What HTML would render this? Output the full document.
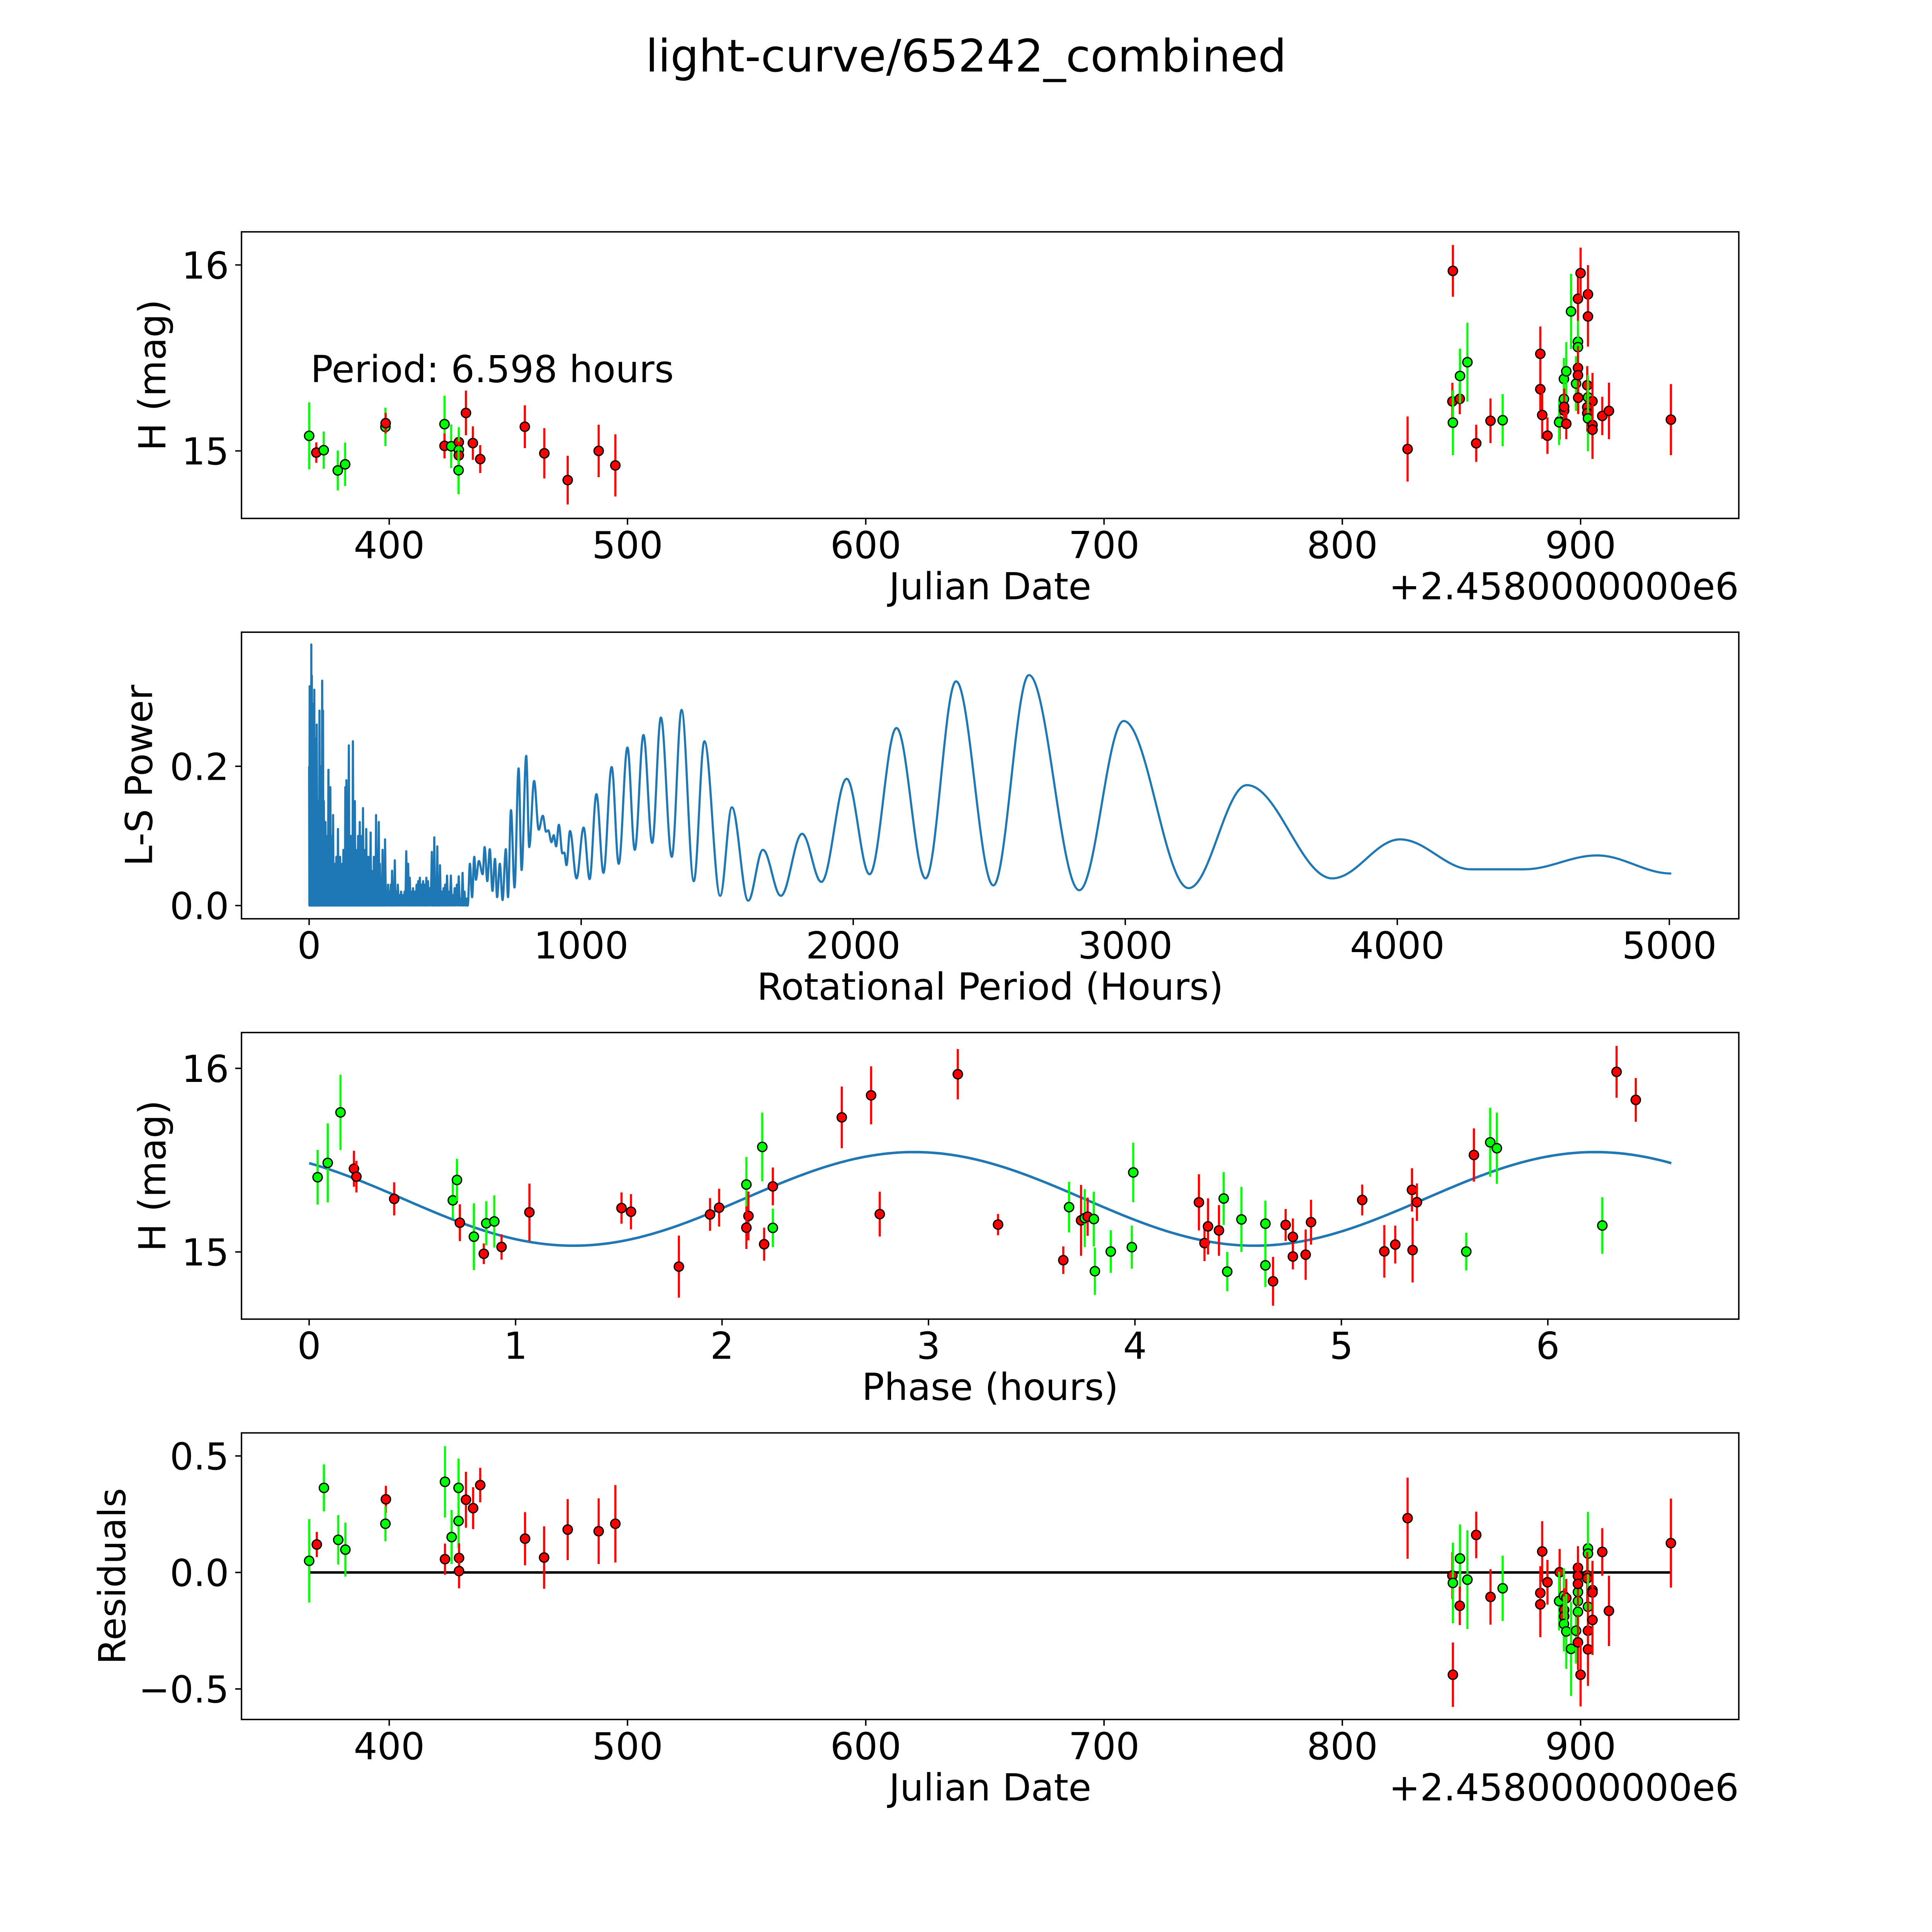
<!DOCTYPE html>
<html><head><meta charset="utf-8"><style>
html,body{margin:0;padding:0;background:#fff;overflow:hidden;width:100%;height:100%;}
svg{display:block;width:100vw;height:100vh;}
text{font-family:"DejaVu Sans","Liberation Sans",sans-serif;fill:#000;}
</style></head>
<body>
<svg id="fig" xmlns="http://www.w3.org/2000/svg" viewBox="0 0 5400 5400" preserveAspectRatio="xMidYMid meet">
<rect x="0" y="0" width="5400" height="5400" fill="#fff"/>
<text x="2700" y="200" font-size="125" text-anchor="middle">light-curve/65242_combined</text>
</svg>
<script>
// ---------- Panel 1: light curve vs Julian Date ----------
const lcJD = [366.4,369.4,372.5,378.4,381.5,398.4,398.5,423.2,423.2,426.0,429.2,429.2,429.2,429.1,432.2,435.1,438.2,456.9,465.1,474.9,487.9,494.9,
827.4,846.4,846.2,846.4,849.3,849.4,852.5,856.2,862.2,867.3,883.1,883.1,883.9,886.1,891.2,891.0,893.0,894.0,893.0,893.1,893.1,894.0,896.0,898.1,898.9,898.9,898.9,898.9,898.9,900.0,899.0,903.1,903.1,902.8,903.1,905.0,902.8,902.8,903.1,905.0,905.0,909.1,911.9,937.9];
const lcMag = [15.081,14.991,15.004,14.895,14.928,15.129,15.149,15.144,15.027,15.025,15.047,15.005,14.976,14.896,15.204,15.042,14.956,15.130,14.987,14.843,15.000,14.922,
15.010,15.968,15.266,15.152,15.280,15.403,15.477,15.041,15.162,15.165,15.522,15.332,15.193,15.082,15.159,15.154,15.387,15.428,15.279,15.217,15.237,15.146,15.750,15.362,15.587,15.558,15.446,15.407,15.818,15.956,15.286,15.842,15.723,15.353,15.288,15.267,15.235,15.203,15.175,15.139,15.114,15.188,15.215,15.168];
const lcErr = [0.18,0.055,0.10,0.107,0.117,0.103,0.055,0.153,0.067,0.117,0.074,0.123,0.074,0.129,0.12,0.09,0.075,0.115,0.135,0.131,0.141,0.167,
0.175,0.139,0.10,0.175,0.083,0.147,0.212,0.10,0.12,0.14,0.147,0.113,0.128,0.098,0.098,0.123,0.113,0.157,0.12,0.098,0.098,0.083,0.202,0.147,0.118,0.118,0.118,0.118,0.118,0.137,0.088,0.157,0.162,0.103,0.12,0.152,0.1,0.1,0.177,0.157,0.157,0.103,0.152,0.191];
const lcColor = ["g","r","g","g","g","g","r","g","r","g","r","g","r","g","r","r","r","r","r","r","r","r",
"r","r","r","g","r","g","g","r","r","g","r","r","r","r","r","g","g","g","g","r","r","r","g","g","g","g","r","r","r","r","r","r","r","r","g","r","r","r","g","r","r","r","r","r"];
const periodText = "Period: 6.598 hours";

// ---------- Panel 2: Lomb-Scargle periodogram ----------
const densePeriod = [0,2,4,6,8,10,12,14,16,19,22,25,28,31,34,38,41,44,48,51,54,57,60,64,67,71,74,78,82,85,88,92,96,100,103,106,110,114,118,122,126,130,133,137,141,146,150,154,158,161,165,168,172,176,180,183,186,190,194,198,202,206,210,214,218,222,226,230,234,238,242,246,250,256,260,265,270,275,279,285,290,296,300,305,310,315,320,326,332,338,345,351,357,364,370,376,382,388,395,401,407,413,419,425,431,437,443,451,456,460,466,471,476,481,487,494,500,507,514,521,528,535,543,550,557,564,571,578];
const densePower = [0.20,0.315,0.30,0.25,0.375,0.33,0.20,0.29,0.22,0.31,0.24,0.18,0.26,0.12,0.15,0.28,0.20,0.09,0.323,0.28,0.15,0.08,0.12,0.06,0.10,0.195,0.17,0.17,0.05,0.10,0.13,0.04,0.06,0.07,0.04,0.11,0.05,0.07,0.03,0.06,0.08,0.05,0.17,0.18,0.07,0.23,0.06,0.10,0.07,0.236,0.11,0.15,0.05,0.08,0.10,0.07,0.12,0.06,0.10,0.14,0.05,0.08,0.11,0.03,0.07,0.06,0.105,0.05,0.04,0.07,0.05,0.13,0.08,0.12,0.06,0.04,0.08,0.02,0.095,0.02,0.03,0.02,0.03,0.05,0.03,0.065,0.02,0.03,0.015,0.02,0.015,0.02,0.078,0.06,0.04,0.02,0.025,0.02,0.03,0.035,0.04,0.03,0.035,0.03,0.04,0.035,0.025,0.077,0.05,0.098,0.03,0.085,0.02,0.058,0.02,0.025,0.03,0.043,0.02,0.043,0.015,0.025,0.03,0.042,0.01,0.047,0.02,0.01];
const denseTrough = 0.0;
const smoothPeriod = [583,591,599,607,613,624,638,645,655,664,674,683,691,701,711,723,731,742,755,770,781,798,809,827,844,859,871,879,891,899,908,918,931,938,946,959,983,1009,1031,1056,1082,1112,1138,1170,1197,1229,1261,1293,1333,1369,1414,1453,1511,1554,1614,1668,1734,1812,1883,1976,2060,2159,2266,2378,2515,2646,2831,2994,3233,3447,3761,4010,4272,4466,4734,5007];
const smoothPower = [0.0,0.060,0.012,0.070,0.037,0.064,0.045,0.084,0.035,0.081,0.021,0.067,0.012,0.060,0.008,0.081,0.012,0.137,0.026,0.197,0.051,0.215,0.084,0.179,0.109,0.129,0.106,0.108,0.091,0.101,0.085,0.116,0.075,0.076,0.058,0.107,0.039,0.112,0.038,0.160,0.047,0.199,0.060,0.227,0.080,0.245,0.090,0.270,0.070,0.281,0.035,0.236,0.014,0.141,0.007,0.080,0.014,0.103,0.034,0.182,0.045,0.255,0.039,0.322,0.029,0.331,0.022,0.265,0.025,0.173,0.039,0.095,0.052,0.052,0.072,0.046];

// ---------- Panel 3: phased light curve ----------
const phHours = [0.041,0.090,0.152,0.217,0.229,0.412,0.696,0.716,0.730,0.798,0.846,0.858,0.897,0.932,1.067,1.513,1.559,1.791,1.942,1.986,2.118,2.128,2.118,2.195,2.204,2.246,2.246,2.580,2.722,2.764,3.142,
3.337,3.653,3.681,3.739,3.757,3.771,3.801,3.806,3.883,3.985,3.992,4.310,4.337,4.354,4.407,4.430,4.447,4.516,4.632,4.632,4.669,4.730,4.765,4.765,4.827,4.853,5.101,5.208,5.261,5.342,5.345,5.366,5.605,5.642,5.721,5.753,6.264,6.333,6.426];
const phMag = [15.407,15.485,15.760,15.453,15.410,15.289,15.281,15.392,15.159,15.083,14.990,15.156,15.166,15.027,15.216,15.239,15.219,14.920,15.204,15.241,15.367,15.196,15.132,15.572,15.042,15.357,15.131,15.733,15.853,15.206,15.968,
15.149,14.955,15.244,15.172,15.184,15.192,15.179,14.895,15.002,15.026,15.433,15.270,15.048,15.139,15.117,15.291,14.893,15.177,15.154,14.927,14.840,15.147,15.082,14.975,14.985,15.162,15.283,15.003,15.040,15.338,15.010,15.271,15.002,15.528,15.597,15.565,15.144,15.981,15.828];
const phErr = [0.149,0.215,0.205,0.098,0.086,0.09,0.10,0.115,0.10,0.182,0.056,0.12,0.142,0.069,0.156,0.085,0.096,0.169,0.089,0.103,0.15,0.133,0.116,0.187,0.09,0.103,0.105,0.168,0.158,0.122,0.137,
0.058,0.075,0.138,0.193,0.158,0.104,0.149,0.129,0.116,0.117,0.162,0.153,0.098,0.153,0.138,0.144,0.107,0.177,0.125,0.118,0.133,0.087,0.10,0.07,0.137,0.122,0.084,0.143,0.103,0.118,0.176,0.102,0.103,0.145,0.188,0.194,0.154,0.141,0.119];
const phColor = ["g","g","g","r","r","r","g","g","r","g","r","g","g","r","r","r","r","r","r","r","g","r","r","g","r","r","g","r","r","r","r",
"r","r","g","r","g","r","g","g","g","g","g","r","r","r","r","g","g","g","g","g","r","r","r","r","r","r","r","r","r","r","r","r","g","r","g","g","g","r","r"];
const fitPeriod = 6.598;
const fitMean = 15.289;
const fitAmp = 0.255;
const fitPeakPhase = 2.93;

// ---------- Panel 4: residuals ----------
const resJD = [366.4,369.6,372.6,378.6,381.6,398.6,398.4,423.4,423.4,426.2,429.1,429.1,429.3,429.3,432.2,435.2,438.2,457.0,465.0,474.9,487.9,494.9,
827.4,846.4,846.2,846.4,849.4,849.3,852.5,856.2,862.2,867.3,883.9,883.1,883.1,886.1,891.2,891.0,893.0,894.0,893.1,893.1,893.0,894.0,896.0,898.1,898.9,898.9,898.9,898.9,898.9,898.9,898.9,900.0,903.1,903.1,902.8,902.8,903.1,903.1,903.1,905.0,905.0,905.0,909.1,911.9,937.9];
const resVal = [0.050,0.120,0.363,0.140,0.098,0.314,0.209,0.389,0.057,0.152,0.363,0.221,0.062,0.006,0.312,0.276,0.375,0.145,0.064,0.184,0.177,0.209,
0.233,-0.439,-0.013,-0.045,0.060,-0.143,-0.031,0.161,-0.105,-0.068,0.090,-0.088,-0.137,-0.042,0.001,-0.123,-0.100,-0.110,-0.161,-0.188,-0.221,-0.253,-0.328,-0.250,-0.084,-0.123,-0.169,0.020,-0.015,-0.049,-0.300,-0.439,0.103,0.081,-0.012,-0.025,-0.147,-0.250,-0.330,-0.076,-0.086,-0.204,0.088,-0.165,0.126];
const resErr = [0.179,0.054,0.101,0.106,0.116,0.058,0.075,0.153,0.067,0.116,0.126,0.115,0.063,0.074,0.12,0.09,0.074,0.114,0.134,0.131,0.141,0.166,
0.174,0.138,0.101,0.173,0.146,0.083,0.212,0.10,0.119,0.14,0.13,0.115,0.141,0.096,0.10,0.126,0.118,0.082,0.093,0.093,0.118,0.161,0.202,0.141,0.118,0.118,0.118,0.093,0.093,0.093,0.118,0.136,0.157,0.157,0.10,0.10,0.14,0.157,0.157,0.126,0.126,0.15,0.102,0.151,0.191];
const resColor = ["g","r","g","g","g","r","g","g","r","g","g","g","r","r","r","r","r","r","r","r","r","r",
"r","r","r","g","g","r","g","r","r","g","r","r","r","r","r","g","g","r","r","r","g","g","g","g","g","g","g","r","r","r","r","r","g","g","r","r","g","r","r","r","r","r","r","r","r"];

// ---------- Layout ----------
const NS = "http://www.w3.org/2000/svg";
const fig = document.getElementById('fig');
const AX_L = 675, AX_R = 4860;
const FS = 104;
const COLORS = {r:"#ff0000", g:"#00ff00"};
function el(tag, attrs, parent){ const e=document.createElementNS(NS,tag); for(const k in attrs) e.setAttribute(k, attrs[k]); (parent||fig).appendChild(e); return e; }
function linScale(d0,d1,r0,r1){ return v => r0 + (v-d0)*(r1-r0)/(d1-d0); }

function makeAxes(name, top, bottom, xdom, ydom){
  const g = el('g', {});
  
  
  const sx = linScale(xdom[0], xdom[1], AX_L, AX_R);
  const sy = linScale(ydom[0], ydom[1], bottom, top);
  const clip = el('clipPath', {id: name+'-clip'}, g);
  el('rect', {x:AX_L, y:top, width:AX_R-AX_L, height:bottom-top}, clip);
  const plot = el('g', {'clip-path':'url(#'+name+'-clip)'}, g);
  
  
  return {g, plot, sx, sy, top, bottom};
}
function frame(ax, name){
  const r = el('rect', {x:AX_L, y:ax.top, width:AX_R-AX_L, height:ax.bottom-ax.top, fill:'none', stroke:'#000', 'stroke-width':4}, ax.g);
  
  
}
function xTicks(ax, name, vals, labels){
  vals.forEach((v,i)=>{
    const x = ax.sx(v);
    const t = el('line', {x1:x, x2:x, y1:ax.bottom, y2:ax.bottom+17.5, stroke:'#000','stroke-width':4}, ax.g);
    
    
    const tx = el('text', {x:x, y:ax.bottom+111, 'font-size':FS, 'text-anchor':'middle'}, ax.g);
    tx.textContent = labels[i];
    
    
  });
}
function yTicks(ax, name, vals, labels){
  vals.forEach((v,i)=>{
    const y = ax.sy(v);
    const t = el('line', {x1:AX_L-17.5, x2:AX_L, y1:y, y2:y, stroke:'#000','stroke-width':4}, ax.g);
    
    
    const tx = el('text', {x:AX_L-35, y:y+38, 'font-size':FS, 'text-anchor':'end'}, ax.g);
    tx.textContent = labels[i];
    
    
  });
}
function xLabel(ax, name, txt){
  const t = el('text', {x:(AX_L+AX_R)/2, y:ax.bottom+226, 'font-size':FS, 'text-anchor':'middle'}, ax.g);
  t.textContent = txt;
  
  
}
function yLabel(ax, name, txt, xc){
  const yc = (ax.top+ax.bottom)/2;
  const t = el('text', {x:xc, y:yc, 'font-size':FS, 'text-anchor':'middle', transform:'rotate(-90 '+xc+' '+yc+')'}, ax.g);
  t.textContent = txt;
  
  
}
function offsetText(ax, name){
  const t = el('text', {x:AX_R, y:ax.bottom+226, 'font-size':FS, 'text-anchor':'end'}, ax.g);
  t.textContent = '+2.4580000000e6';
  
  
}
function errPoints(ax, name, xs, ys, es, cs){
  for(let i=0;i<xs.length;i++){
    const x = ax.sx(xs[i]), c = COLORS[cs[i]];
    const b = el('line', {x1:x, x2:x, y1:ax.sy(ys[i]-es[i]), y2:ax.sy(ys[i]+es[i]), stroke:c, 'stroke-width':6}, ax.plot);
    
    
    const m = el('circle', {cx:x, cy:ax.sy(ys[i]), r:13, fill:c, stroke:'#000', 'stroke-width':3.5}, ax.plot);
    
    
  }
}

// Panel 1
const a1 = makeAxes('lightcurve-panel', 648, 1449, [338, 966.4], [14.637, 16.178]);
errPoints(a1, 'lightcurve', lcJD, lcMag, lcErr, lcColor);
frame(a1,'lightcurve');
xTicks(a1,'lightcurve',[400,500,600,700,800,900],['400','500','600','700','800','900']);
yTicks(a1,'lightcurve',[15,16],['15','16']);
xLabel(a1,'lightcurve','Julian Date');
yLabel(a1,'lightcurve','H (mag)',462);
offsetText(a1,'lightcurve');
const pt = el('text', {x:868, y:1068, 'font-size':FS}, a1.g);
pt.textContent = periodText;



// Panel 2
const a2 = makeAxes('periodogram-panel', 1767, 2568, [-248.6, 5255.3], [-0.019, 0.3926]);
(function(){
  let d = '';
  for(let i=0;i<densePeriod.length;i++){
    const x = a2.sx(densePeriod[i]), y = a2.sy(densePower[i]);
    d += (i===0?'M':'L') + x.toFixed(1)+' '+y.toFixed(1)+' ';
    const nx = i+1<densePeriod.length ? densePeriod[i+1] : smoothPeriod[0];
    d += 'L' + a2.sx((densePeriod[i]+nx)/2).toFixed(1)+' '+a2.sy(denseTrough).toFixed(1)+' ';
  }
  for(let i=0;i<smoothPeriod.length;i++){
    const x = a2.sx(smoothPeriod[i]), y = a2.sy(smoothPower[i]);
    if(i===0){ d += 'L'+x.toFixed(1)+' '+y.toFixed(1)+' '; continue; }
    const px = a2.sx(smoothPeriod[i-1]), py = a2.sy(smoothPower[i-1]);
    const dx = (x-px)*0.36;
    d += 'C'+(px+dx).toFixed(1)+' '+py.toFixed(1)+' '+(x-dx).toFixed(1)+' '+y.toFixed(1)+' '+x.toFixed(1)+' '+y.toFixed(1)+' ';
  }
  const p = el('path', {d:d, fill:'none', stroke:'#1f77b4', 'stroke-width':6, 'stroke-linejoin':'round'}, a2.plot);
  
  
})();
frame(a2,'periodogram');
xTicks(a2,'periodogram',[0,1000,2000,3000,4000,5000],['0','1000','2000','3000','4000','5000']);
yTicks(a2,'periodogram',[0,0.2],['0.0','0.2']);
xLabel(a2,'periodogram','Rotational Period (Hours)');
yLabel(a2,'periodogram','L-S Power',425);

// Panel 3
const a3 = makeAxes('phase-panel', 2886, 3687, [-0.3276, 6.925], [14.634, 16.195]);
(function(){
  let d='';
  const N=400;
  for(let i=0;i<=N;i++){
    const ph = fitPeriod*i/N;
    const m = fitMean + fitAmp*Math.cos(2*Math.PI*(ph-fitPeakPhase)/(fitPeriod/2));
    d += (i?'L':'M')+a3.sx(ph).toFixed(1)+' '+a3.sy(m).toFixed(1)+' ';
  }
  const p = el('path', {d:d, fill:'none', stroke:'#1f77b4', 'stroke-width':7}, a3.plot);
  
  
})();
errPoints(a3, 'phase', phHours, phMag, phErr, phColor);
frame(a3,'phase');
xTicks(a3,'phase',[0,1,2,3,4,5,6],['0','1','2','3','4','5','6']);
yTicks(a3,'phase',[15,16],['15','16']);
xLabel(a3,'phase','Phase (hours)');
yLabel(a3,'phase','H (mag)',462);

// Panel 4
const a4 = makeAxes('residual-panel', 4005, 4806, [338, 966.4], [-0.631, 0.599]);
(function(){
  const x0 = a4.sx(Math.min(...resJD)), x1 = a4.sx(Math.max(...resJD));
  const l = el('line', {x1:x0, x2:x1, y1:a4.sy(0), y2:a4.sy(0), stroke:'#000', 'stroke-width':7}, a4.plot);
  
  
})();
errPoints(a4, 'residual', resJD, resVal, resErr, resColor);
frame(a4,'residual');
xTicks(a4,'residual',[400,500,600,700,800,900],['400','500','600','700','800','900']);
yTicks(a4,'residual',[-0.5,0,0.5],['\u22120.5','0.0','0.5']);
xLabel(a4,'residual','Julian Date');
yLabel(a4,'residual','Residuals',350);
offsetText(a4,'residual');
</script>
</body></html>
